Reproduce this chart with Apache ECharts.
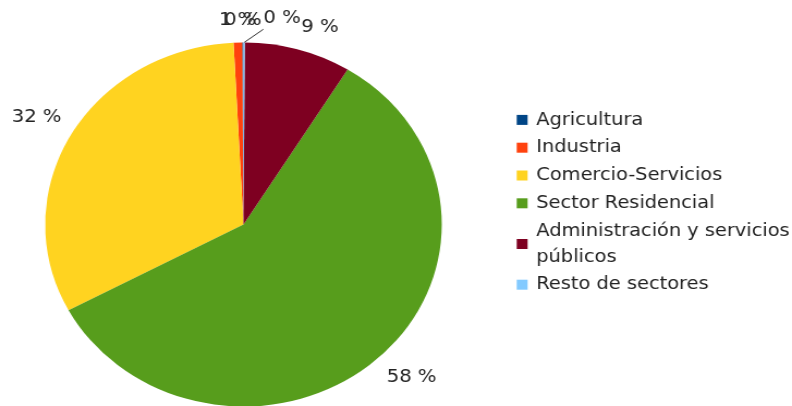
<!DOCTYPE html>
<html><head><meta charset="utf-8">
<script src="https://cdn.jsdelivr.net/npm/echarts@6/dist/echarts.min.js"></script>
<style>
html,body{margin:0;padding:0;overflow:hidden;background:#fff}
#wrap{width:792px;height:406px;overflow:hidden}
#c{width:727px;height:406px;transform:scaleX(1.0894);transform-origin:0 0}
</style>
</head><body><div id="wrap"><div id="c"></div></div>
<script>
// Data
const categories = ['Agricultura', 'Industria', 'Comercio-Servicios', 'Sector Residencial', 'Administración y servicios públicos', 'Resto de sectores'];
const values = [0.1, 0.7, 32.0, 58.4, 8.7, 0.1];
const colors = ['#004586', '#ff420e', '#ffd320', '#579d1c', '#7e0021', '#83caff'];

// Layout / style
const CX = 223.5, CY = 224.5, R = 182, LR = 192;
const FONT = 'DejaVu Sans';
const TXT = '#222';
const total = values.reduce((a, b) => a + b, 0);
const mids = [];
let acc = 0;
values.forEach(v => { mids.push((acc + v / 2) / total); acc += v; });
const nudge = { 5: [17.6, -1.7] };

const chart = echarts.init(document.getElementById('c'));
chart.setOption({
  animation: false,
  backgroundColor: '#fff',
  legend: {
    orient: 'vertical',
    left: 474.3,
    top: 107,
    padding: 0,
    itemWidth: 10,
    itemHeight: 10,
    itemGap: 2,
    icon: 'rect',
    selectedMode: false,
    data: categories,
    formatter: n => n.replace(' públicos', '\npúblicos'),
    textStyle: { fontSize: 17.8, fontFamily: FONT, color: TXT, lineHeight: 25.8, padding: [0, 0, 0, 3] }
  },
  series: [{
    type: 'pie',
    center: [CX, CY],
    radius: R,
    startAngle: 90,
    clockwise: false,
    avoidLabelOverlap: false,
    silent: true,
    emphasis: { disabled: true },
    itemStyle: { borderWidth: 0 },
    data: categories.map((n, i) => {
      const d = { name: n, value: values[i], itemStyle: { color: colors[i] } };
      if (nudge[i]) d.labelLine = { show: true, lineStyle: { color: '#333', width: 1 } };
      return d;
    }),
    label: {
      position: 'outside',
      fontSize: 18,
      fontFamily: FONT,
      color: TXT,
      padding: [3.5, 0, 3.5, 0],
      formatter: p => Math.round(p.percent) + ' %'
    },
    labelLine: { show: false, length: 10, length2: 0 },
    labelLayout: function (p) {
      const i = p.dataIndex;
      const th = (90 + mids[i] * 360) * Math.PI / 180;
      const dx = Math.cos(th), dy = -Math.sin(th);
      const x = CX + LR * dx, y = CY + LR * dy;
      const res = {
        x: x, y: y,
        align: Math.abs(dx) < 0.15 ? 'center' : (dx < 0 ? 'right' : 'left'),
        verticalAlign: dy < 0 ? 'bottom' : 'top'
      };
      if (nudge[i]) {
        res.x = x + nudge[i][0];
        res.y = y + nudge[i][1];
        res.align = 'left';
        res.labelLinePoints = [[CX + R * dx, CY + R * dy], [res.x, res.y - 1.5], [res.x, res.y - 1.5]];
      }
      return res;
    }
  }]
});
</script>
</body></html>
